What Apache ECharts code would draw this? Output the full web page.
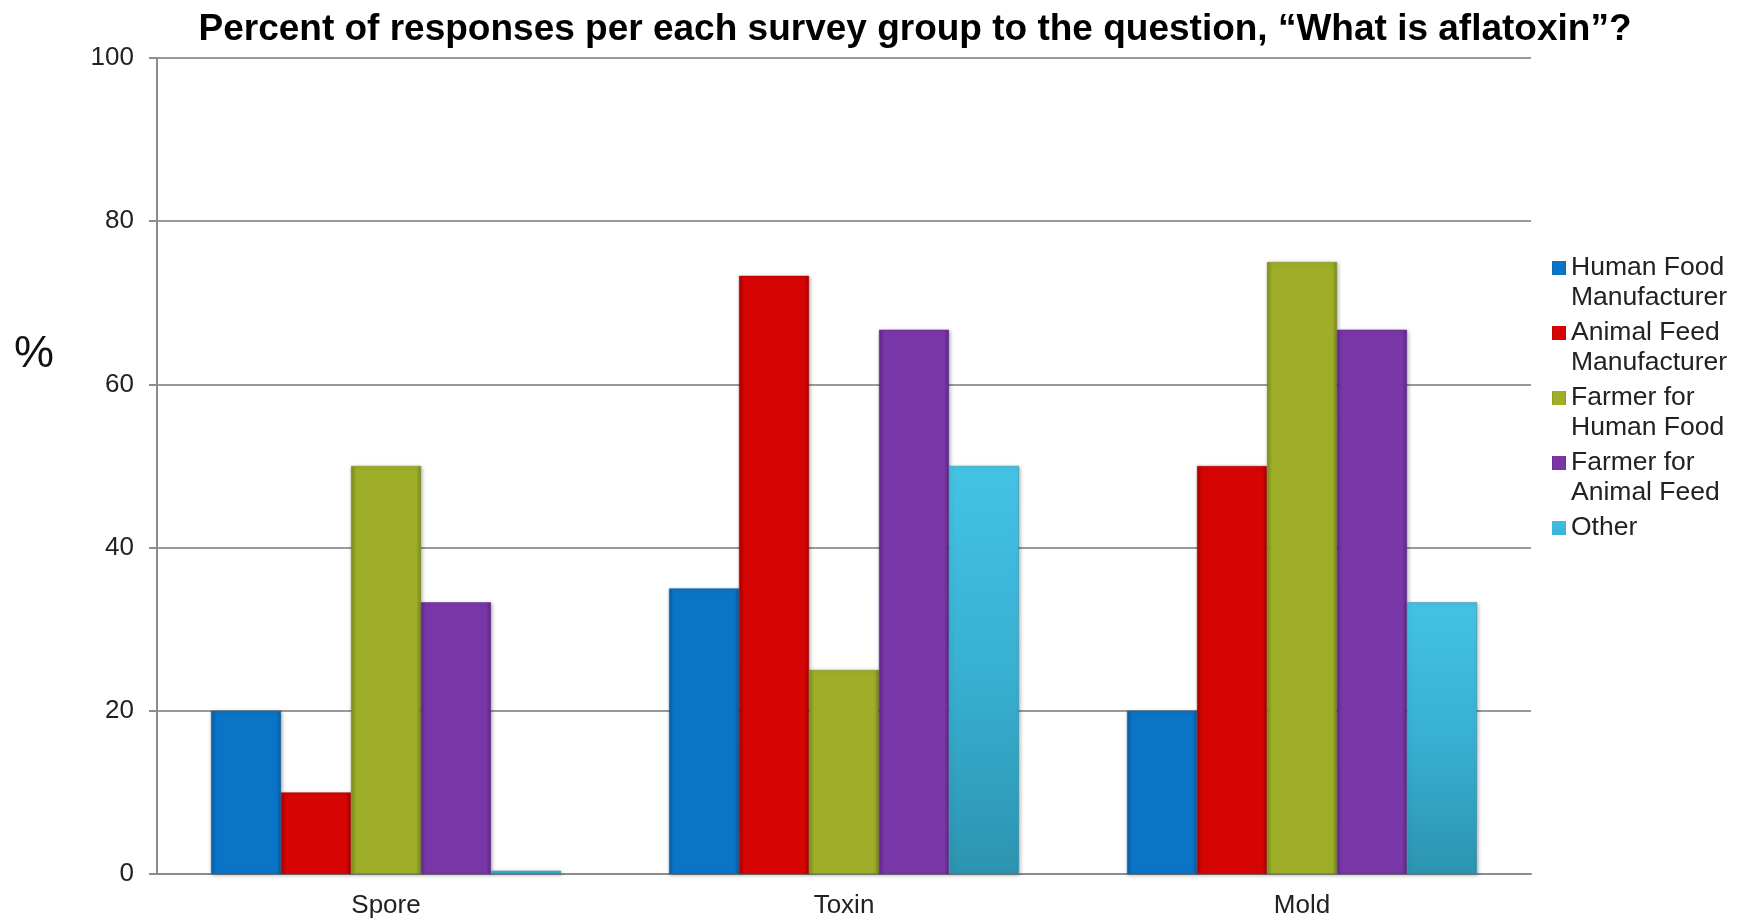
<!DOCTYPE html>
<html>
<head>
<meta charset="utf-8">
<title>What is aflatoxin</title>
<script src="https://cdn.jsdelivr.net/npm/echarts@6/dist/echarts.min.js"></script>
<style>
  html, body { margin: 0; padding: 0; background: #fff; }
  #main { width: 1742px; height: 921px; }
</style>
</head>
<body>
<div id="main"></div>
<script>
// data
const categories = ['Spore', 'Toxin', 'Mold']
const groups = [
  'Human Food\nManufacturer',
  'Animal Feed\nManufacturer',
  'Farmer for\nHuman Food',
  'Farmer for\nAnimal Feed',
  'Other',
]
const humanFoodMan = [20, 35, 20]
const animalFeedMan = [10, 73.3, 50]
const farmerHuman = [50, 25, 75]
const farmerAnimal = [33.3, 66.7, 66.7]
const other = [0.4, 50, 33.3]
const yTicks = [0, 20, 40, 60, 80, 100]

const values = [humanFoodMan, animalFeedMan, farmerHuman, farmerAnimal, other]

// colour per group: [edge, face]
const colors = [
  ['#0a5fa0', '#0a74c6'],
  ['#a80000', '#d60404'],
  ['#7c8c1c', '#9eae28'],
  ['#5e2888', '#7a37a8'],
  ['#2a90ad', '#3cb8da'],
]

function barFill(i) {
  if (i === 4) {
    // Other: lighter top, darker bottom
    return new echarts.graphic.LinearGradient(0, 0, 0, 1, [
      { offset: 0, color: '#44c2e4' },
      { offset: 0.5, color: '#38b0d2' },
      { offset: 1, color: '#2c94b0' },
    ])
  }
  const c = colors[i]
  return new echarts.graphic.LinearGradient(0, 0, 1, 0, [
    { offset: 0, color: c[0] },
    { offset: 0.07, color: c[1] },
    { offset: 0.93, color: c[1] },
    { offset: 1, color: c[0] },
  ])
}

// legend icon: square next to the first text line (box is 14 x 60)
const legendIcon = 'path://M0,0H14M0,8H14V22H0ZM0,60H14'

const series = groups.map((name, i) => ({
  name: name,
  type: 'bar',
  data: values[i],
  barGap: '0%',
  barCategoryGap: '23.6%',
  itemStyle: {
    color: barFill(i),
    borderColor: colors[i][0],
    borderWidth: 0.5,
    shadowColor: 'rgba(0,0,0,0.3)',
    shadowBlur: 4,
    shadowOffsetX: 1,
    shadowOffsetY: 1,
  },
}))

const option = {
  animation: false,
  title: {
    text: 'Percent of responses per each survey group to the question, \u201cWhat is aflatoxin\u201d?',
    left: 910,
    textAlign: 'center',
    top: 6,
    textStyle: {
      fontFamily: 'Liberation Sans',
      fontWeight: 'bold',
      fontSize: 37,
      color: '#000',
    },
  },
  legend: {
    orient: 'vertical',
    left: 1547,
    top: 248,
    itemWidth: 14,
    itemHeight: 60,
    itemGap: 5,
    icon: legendIcon,
    itemStyle: { borderWidth: 0, shadowBlur: 0 },
    data: groups,
    // one-line entry gets an empty second line so its text sits by the square
    formatter: (name) => (name.indexOf('\n') < 0 ? name + '\n ' : name),
    textStyle: {
      fontFamily: 'Liberation Sans',
      fontSize: 26.5,
      lineHeight: 30,
      color: '#222',
    },
  },
  graphic: [
    {
      type: 'text',
      left: 14,
      top: 332,
      style: {
        text: '%',
        fontFamily: 'Liberation Sans',
        fontSize: 45,
        fill: '#111',
      },
    },
  ],
  grid: {
    left: 157,
    right: 211,
    top: 58,
    bottom: 47,
  },
  xAxis: {
    type: 'category',
    data: categories,
    axisTick: { show: false },
    axisLine: { lineStyle: { color: '#8c8c8c', width: 2 } },
    axisLabel: {
      margin: 19,
      fontFamily: 'Liberation Sans',
      fontSize: 26,
      color: '#222',
    },
  },
  yAxis: {
    type: 'value',
    min: yTicks[0],
    max: yTicks[yTicks.length - 1],
    interval: yTicks[1] - yTicks[0],
    axisLine: { show: true, lineStyle: { color: '#8c8c8c', width: 2 } },
    axisTick: { show: true, length: 8, lineStyle: { color: '#8c8c8c', width: 2 } },
    splitLine: { lineStyle: { color: '#9a9a9a', width: 2 } },
    axisLabel: {
      margin: 23,
      fontFamily: 'Liberation Sans',
      fontSize: 26,
      color: '#222',
    },
  },
  series: series,
}

const myChart = echarts.init(document.getElementById('main'))
myChart.setOption(option, true)
</script>
</body>
</html>
